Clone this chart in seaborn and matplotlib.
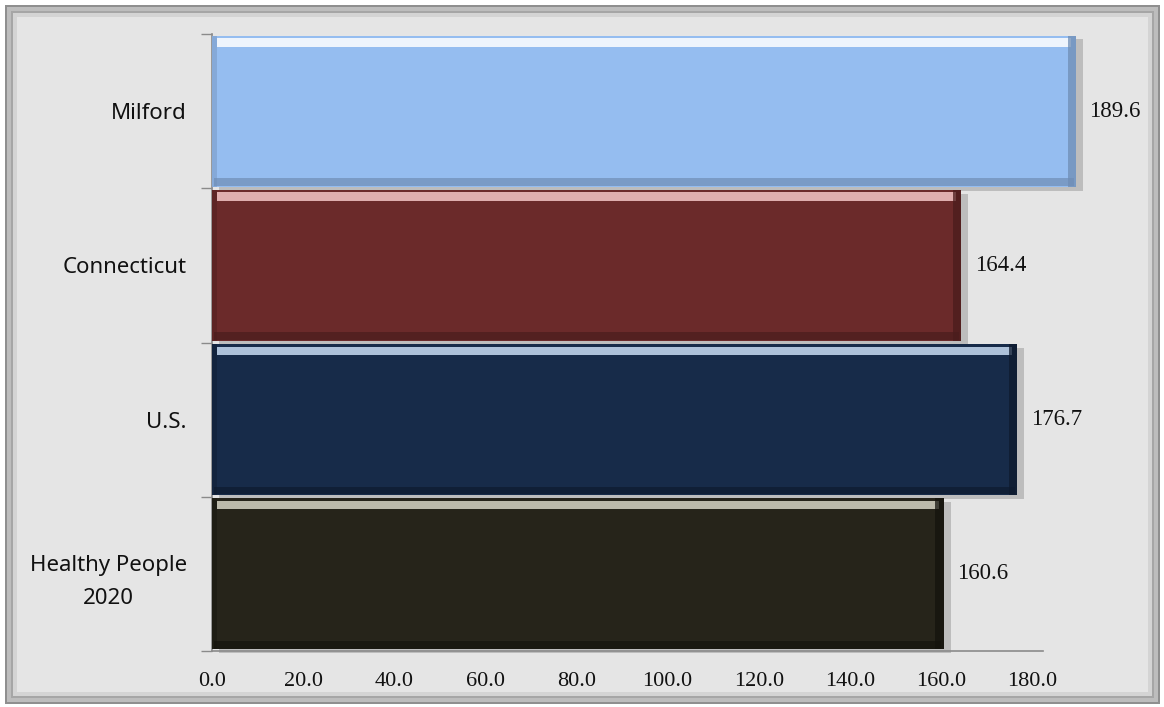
import matplotlib
matplotlib.use("Agg")
import matplotlib.pyplot as plt
import matplotlib.patches as mpatches
import seaborn as sns
import pandas as pd
import numpy as np

categories = ["Milford", "Connecticut", "U.S.", "Healthy People\n2020"]
values = [189.6, 164.4, 176.7, 160.6]
colors = ["#95bdf0", "#6b2a2a", "#172b49", "#26241a"]
highlight = ["#ffffff", "#f4c6c6", "#c9dcf3", "#d8d6c6"]
shade = ["#6f8db5", "#4a1c1c", "#0e1a2e", "#14130d"]
xticks = [0, 20, 40, 60, 80, 100, 120, 140, 160, 180]

sns.set_theme(style="white")
plt.rcParams["font.family"] = ["Noto Sans", "DejaVu Sans"]

fig = plt.figure(figsize=(11.64, 7.07), dpi=100)
fig.patch.set_facecolor("white")

W, H = 1164, 707
def frame(x0, y0, x1, y1, fc, z):
    # pixel coords measured from top-left
    fig.patches.append(mpatches.Rectangle((x0 / W, 1 - y1 / H), (x1 - x0) / W, (y1 - y0) / H,
                                          transform=fig.transFigure, facecolor=fc,
                                          edgecolor="none", zorder=z))

frame(5, 5, 1160, 704, "#8f8f8f", -5)
frame(7, 7, 1158, 702, "#bdbdbd", -4)
frame(11, 11, 1154, 698, "#a6a6a6", -3)
frame(13, 13, 1152, 696, "#d4d4d4", -2)
frame(17, 17, 1148, 692, "#e5e5e5", -1)

ax = fig.add_axes([212/1164, 56/707, 831/1164, 617/707])
ax.set_facecolor("none")
ax.set_zorder(1)

df = pd.DataFrame({"cat": categories, "val": values})
sns.barplot(data=df, y="cat", x="val", hue="cat", order=categories, palette=colors,
            orient="h", width=0.98, legend=False, ax=ax, saturation=1, linewidth=0)
for p in ax.patches:
    p.set_clip_on(False)
    p.set_zorder(3)
    p.set_edgecolor("none")

ypos = np.arange(len(categories))
vals = np.array(values)
kw = dict(clip_on=False, linewidth=0, edgecolor="none")
# shadow
ax.barh(ypos + 0.025, vals, left=1.5, height=0.98, color="#bdbdbd", zorder=2, **kw)
# bevel highlights / shades
ax.barh(ypos - 0.49 + 0.045, vals - 2.0, left=1.0, height=0.055, color=highlight, zorder=4, alpha=0.85, **kw)
ax.barh(ypos + 0.49 - 0.03, vals - 1.0, left=0.5, height=0.05, color=shade, zorder=4, alpha=0.7, **kw)
ax.barh(ypos, [1.8] * len(vals), left=vals - 1.8, height=0.98, color=shade, zorder=4, alpha=0.75, **kw)
ax.barh(ypos, [1.2] * len(vals), left=0, height=0.98, color=shade, zorder=4, alpha=0.4, **kw)

for y, v in zip(ypos, values):
    ax.text(v + 3.0, y, f"{v:.1f}", va="center", ha="left", fontsize=16.5,
            family="Liberation Serif", color="#111111")

ax.set_xlim(0, 182.4)
ax.set_ylim(len(categories) - 0.5, -0.5)
ax.set_xticks(xticks)
ax.set_xticklabels([f"{t:.1f}" for t in xticks], family="Liberation Serif", fontsize=16, color="#111111")
ax.set_yticks(np.arange(len(categories) + 1) - 0.5, minor=True)
ax.tick_params(axis="y", which="minor", length=8, color="#8a8a8a", width=1, left=True)
ax.tick_params(axis="y", which="major", length=0, pad=18, labelsize=16, labelcolor="#111111")
ax.tick_params(axis="x", length=0, pad=15)
ax.set_xlabel("")
ax.set_ylabel("")
for lbl in ax.get_yticklabels():
    lbl.set_multialignment("center")
    lbl.set_linespacing(1.7)
for s in ["top", "right"]:
    ax.spines[s].set_visible(False)
for s in ["left", "bottom"]:
    ax.spines[s].set_color("#8a8a8a")
    ax.spines[s].set_linewidth(1.2)

fig.savefig("out.png", dpi=100, facecolor=fig.get_facecolor())
